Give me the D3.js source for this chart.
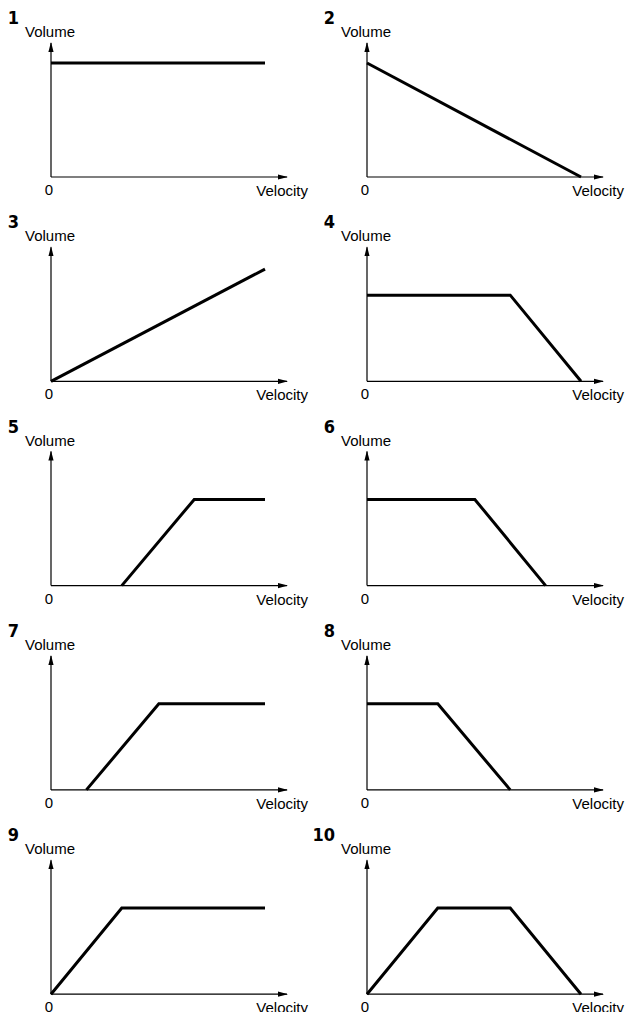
<!DOCTYPE html>
<html>
<head>
<meta charset="utf-8">
<script src="https://cdn.jsdelivr.net/npm/d3@7"></script>
<style>
  body { margin: 0; background: #fff; }
  svg { display: block; }
</style>
</head>
<body>
<svg id="chart"></svg>
<script>
// Velocity / volume curves, one per panel (velocity and volume 0..127)
const panelLabels = ["1", "2", "3", "4", "5", "6", "7", "8", "9", "10"];
const curveVelocity = [
  [0, 127],
  [0, 127],
  [0, 127],
  [0, 85, 127],
  [42, 85, 127],
  [0, 64, 106],
  [21, 64, 127],
  [0, 42, 85],
  [0, 42, 127],
  [0, 42, 85, 127]
];
const curveVolume = [
  [127, 127],
  [127, 0],
  [0, 125],
  [96, 96, 0],
  [0, 96, 96],
  [96, 96, 0],
  [0, 96, 96],
  [96, 96, 0],
  [0, 96, 96],
  [0, 96, 96, 0]
];
const axisLabels = { y: "Volume", x: "Velocity", origin: "0" };

const width = 635;
const height = 1012;

const svg = d3.select("#chart")
  .attr("width", width)
  .attr("height", height);

// arrow head for the axes
svg.append("defs").append("marker")
  .attr("id", "arrow")
  .attr("viewBox", "0 -3 10 6")
  .attr("refX", 9)
  .attr("refY", 0)
  .attr("markerUnits", "userSpaceOnUse")
  .attr("markerWidth", 10)
  .attr("markerHeight", 6)
  .attr("orient", "auto")
  .append("path")
  .attr("d", "M0,-2.6L10,0L0,2.6Z")
  .attr("fill", "#000");

const plotW = 214;
const plotH = 114;

const x = d3.scaleLinear().domain([0, 127]).range([0, plotW]);
const y = d3.scaleLinear().domain([0, 127]).range([plotH, 0]);

const colX = [51, 367];
const rowY = d => 63 + d * 204.3;

const line = d3.line()
  .x(d => x(d[0]))
  .y(d => y(d[1]));

const panels = svg.selectAll(".panel")
  .data(panelLabels)
  .enter()
  .append("g")
  .attr("class", "panel")
  .attr("transform", (d, i) => `translate(${colX[i % 2]},${rowY(Math.floor(i / 2))})`);

// axes
panels.append("line")
  .attr("x1", x(0)).attr("y1", y(0))
  .attr("x2", x(127) + 22).attr("y2", y(0))
  .attr("stroke", "#000")
  .attr("stroke-width", 1.2)
  .attr("marker-end", "url(#arrow)");

panels.append("line")
  .attr("x1", x(0)).attr("y1", y(0))
  .attr("x2", x(0)).attr("y2", y(127) - 20)
  .attr("stroke", "#000")
  .attr("stroke-width", 1.2)
  .attr("marker-end", "url(#arrow)");

// curves
panels.append("path")
  .attr("d", (d, i) => line(d3.zip(curveVelocity[i], curveVolume[i])))
  .attr("fill", "none")
  .attr("stroke", "#000")
  .attr("stroke-width", 3)
  .attr("stroke-linejoin", "miter");

// labels
panels.append("text")
  .attr("x", -32)
  .attr("y", -39)
  .attr("text-anchor", "end")
  .style("font-family", "'DejaVu Sans Condensed', 'DejaVu Sans', sans-serif")
  .style("font-stretch", "condensed")
  .style("font-weight", "bold")
  .style("font-size", "18px")
  .text(d => d);

panels.append("text")
  .attr("x", -26)
  .attr("y", -26)
  .style("font-family", "'Liberation Sans', Arial, sans-serif")
  .style("font-size", "15px")
  .text(axisLabels.y);

panels.append("text")
  .attr("x", -2)
  .attr("y", y(0) + 18)
  .attr("text-anchor", "middle")
  .style("font-family", "'Liberation Sans', Arial, sans-serif")
  .style("font-size", "15px")
  .text(axisLabels.origin);

panels.append("text")
  .attr("x", x(127) + 43)
  .attr("y", y(0) + 19)
  .attr("text-anchor", "end")
  .style("font-family", "'Liberation Sans', Arial, sans-serif")
  .style("font-size", "15px")
  .text(axisLabels.x);
</script>
</body>
</html>
